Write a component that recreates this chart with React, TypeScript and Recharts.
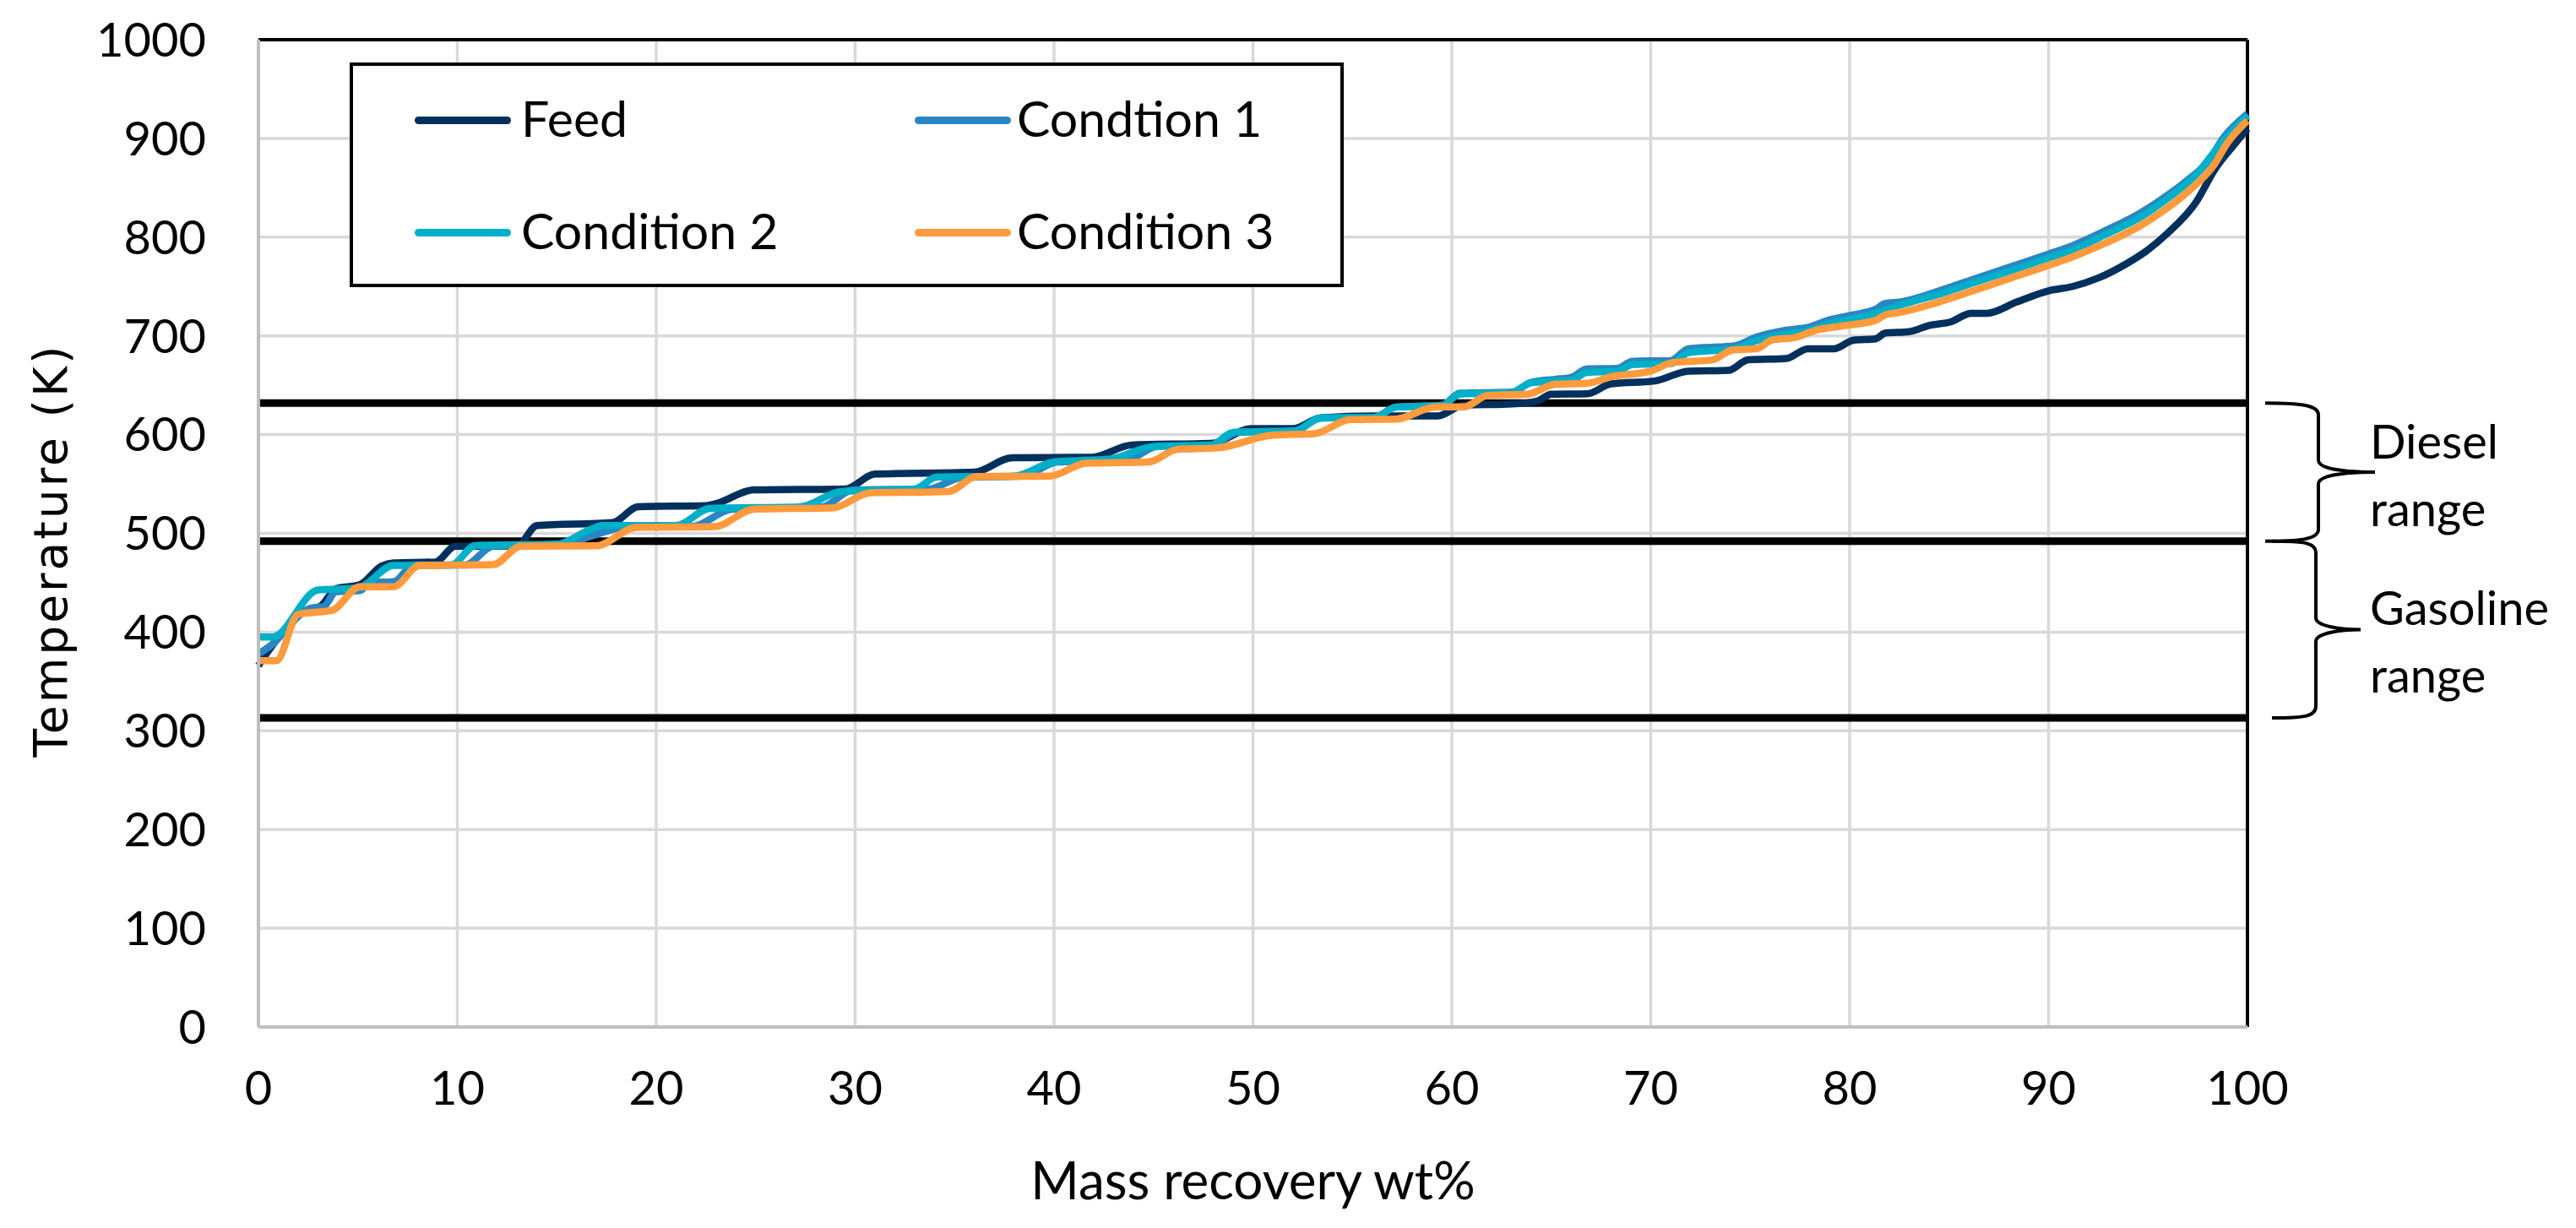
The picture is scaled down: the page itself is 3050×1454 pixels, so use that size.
import React from 'react';
import {
  LineChart,
  Line,
  XAxis,
  YAxis,
  CartesianGrid,
  ReferenceLine,
  ReferenceArea,
  Legend,
  Label,
} from 'recharts';

// ---------- data (mass recovery wt%, temperature K) ----------
const FEED: [number, number][] = [
  [0, 366], [0.4, 378], [2.5, 423], [3.1, 426], [3.9, 444], [5.1, 448], [6.2, 467], [6.8, 470],
  [8.9, 471], [9.9, 487], [13.0, 487], [14.0, 508], [17.8, 511], [19.1, 527], [22.5, 528],
  [23.0, 530], [24.9, 544], [29.5, 545], [31.0, 560], [36.0, 562], [37.9, 576.6], [41.9, 577],
  [43.9, 589.5], [48.0, 591.4], [49.9, 606], [52.0, 606], [53.4, 617], [56.1, 619], [59.3, 619],
  [60.6, 630], [63.0, 631], [64.3, 634], [65.0, 641], [66.8, 641.4], [68.0, 651.4], [70.2, 654.3],
  [71.9, 664.3], [73.9, 665], [74.9, 675.7], [76.8, 677], [77.9, 687], [79.2, 687], [80.2, 695.7],
  [81.3, 697], [81.8, 702.9], [83.0, 704.3], [84.0, 710.6], [85.1, 714.3], [86.1, 722.9],
  [86.9, 722.9], [88.4, 734.3], [90.0, 745.7], [91.2, 750], [92.5, 758.6], [93.9, 772.9],
  [94.9, 785.7], [96.0, 804.3], [97.4, 835], [98.4, 869.8], [99.3, 892.8], [100, 910],
];

const CONDITION_1: [number, number][] = [
  [0, 378], [0.6, 386], [2.6, 424], [3.3, 426], [3.9, 441], [5.1, 442], [5.6, 450], [6.8, 451],
  [7.8, 468], [10.4, 468], [11.8, 487], [15.0, 488], [16.7, 497], [17.3, 501], [18.7, 507],
  [21.8, 507], [23.8, 524.4], [28.3, 526.7], [29.9, 543.8], [33.7, 545], [35.4, 556.7],
  [38.4, 558], [40.2, 572.3], [43.6, 573.7], [45.2, 588], [48.0, 589.4], [49.2, 602.3],
  [52.1, 603.7], [53.4, 616.7], [56.1, 617.5], [57.2, 628], [59.5, 629.6], [60.4, 642],
  [63.0, 643], [64.0, 653], [65.2, 656], [66.0, 658], [66.8, 666.6], [68.3, 667], [69.1, 674.3],
  [71.0, 675], [71.9, 687], [74.2, 690], [75.3, 698.6], [76.8, 705.7], [77.9, 708.6],
  [78.9, 715.7], [80.2, 721.4], [81.3, 727], [81.8, 732.9], [82.5, 734.3], [84.7, 747],
  [86.4, 758.6], [88.1, 770], [90.0, 782.9], [91.2, 791.4], [92.9, 807], [94.6, 824.3],
  [95.7, 838.6], [97.0, 858], [98.0, 876], [98.8, 901], [100, 925],
];

const CONDITION_2: [number, number][] = [
  [0, 395], [0.7, 395], [3.0, 442.6], [5.0, 444.6], [6.8, 467.4], [9.7, 468], [10.9, 487.7],
  [15.0, 489], [16.7, 504], [17.3, 508], [21.0, 508], [22.7, 525.3], [27.2, 526.7],
  [29.3, 542.4], [33.0, 545], [34.1, 557], [38.0, 558], [40.0, 572.3], [42.8, 575.2],
  [45.0, 588], [47.9, 589.4], [49.0, 602.3], [52.1, 603.7], [53.4, 616.7], [56.1, 617.5],
  [57.2, 628], [59.5, 629.6], [60.4, 641], [63.0, 642.5], [64.0, 652.6], [65.2, 654],
  [66.0, 655], [66.8, 663], [68.3, 664], [69.1, 671], [71.0, 672], [71.9, 683], [74.2, 687],
  [75.3, 695], [76.8, 702], [77.9, 705], [78.9, 712], [80.2, 717.5], [81.3, 723], [82.5, 731],
  [84.7, 743.5], [86.4, 755], [88.1, 766], [90.0, 779], [91.2, 787], [92.9, 803], [94.6, 820],
  [95.7, 835], [97.4, 863], [98.8, 898], [100, 923],
];

const CONDITION_3: [number, number][] = [
  [0, 371], [0.9, 371], [2.0, 418], [3.7, 422], [5.1, 446], [6.8, 446], [8.1, 467.4],
  [11.8, 468.3], [13.2, 487], [17.0, 487.4], [19.0, 506], [22.95, 506.8], [24.9, 524.4],
  [28.9, 525.9], [30.75, 541], [34.7, 542.4], [36.1, 557.5], [39.8, 558], [41.6, 571],
  [44.75, 572.3], [46.2, 585], [48.2, 586.5], [51.0, 599.4], [53.1, 601], [54.9, 615.2],
  [57.2, 615.8], [59.2, 628], [60.6, 628], [61.8, 639.7], [63.8, 641], [65.2, 651],
  [66.8, 652], [68.0, 658.6], [70.0, 664.3], [71.1, 672.9], [73.1, 675.7], [74.1, 685.7],
  [75.3, 687], [76.1, 695.7], [77.3, 698.6], [78.3, 705.7], [79.6, 710], [81.3, 715.7],
  [81.8, 721.4], [82.5, 723.7], [84.7, 735.7], [86.4, 747], [88.1, 758.6], [90.0, 771.4],
  [91.2, 780], [92.9, 794.3], [94.6, 811.4], [95.7, 825.7], [97.0, 846], [98.3, 872.7],
  [99.0, 895.7], [100, 918],
];

const SERIES_NAMES = ['Feed', 'Condtion 1', 'Condition 2', 'Condition 3'];
const SERIES_COLORS = ['#00305C', '#2A86C3', '#00AFC8', '#FF9A3D'];

const X_TICKS = [0, 10, 20, 30, 40, 50, 60, 70, 80, 90, 100];
const Y_TICKS = [0, 100, 200, 300, 400, 500, 600, 700, 800, 900, 1000];

// temperature cut points (K)
const DIESEL_UPPER = 632;
const DIESEL_LOWER = 492;
const GASOLINE_LOWER = 313;

const toRows = (pts: [number, number][]) => pts.map(([p, t]) => ({ p, t }));

const FONT = 'Lato, "Open Sans", sans-serif';

const makeBrace =
  (o: { endDx: number; vDx: number; tipDx: number; lines: string[]; baselines: number[] }) =>
  (props: any) => {
    const { x, y, width, height } = props;
    const right = x + width;
    const x0 = right + o.endDx;
    const xv = right + o.vDx;
    const xt = right + o.tipDx;
    const yTop = y;
    const yBot = y + height;
    const yMid = y + height / 2;
    const r = 14;
    const d = [
      `M ${x0} ${yTop}`,
      `C ${x0 + 40} ${yTop} ${xv} ${yTop + 2} ${xv} ${yTop + r}`,
      `L ${xv} ${yMid - r}`,
      `C ${xv} ${yMid - 4} ${xv + 30} ${yMid} ${xt} ${yMid}`,
      `C ${xv + 30} ${yMid} ${xv} ${yMid + 4} ${xv} ${yMid + r}`,
      `L ${xv} ${yBot - r}`,
      `C ${xv} ${yBot - 2} ${x0 + 40} ${yBot} ${x0} ${yBot}`,
    ].join(' ');
    return (
      <g>
        <path d={d} fill="none" stroke="#000" strokeWidth={4} />
        {o.lines.map((s, i) => (
          <text key={s + i} x={right + 145} y={y + o.baselines[i]} fontFamily={FONT} fontSize={56} fill="#000">
            {s}
          </text>
        ))}
      </g>
    );
  };

// legend slot per series (same order as SERIES_NAMES)
const LEGEND_POS = [
  { lx: 73, ly: 60, tx: 199 },
  { lx: 665, ly: 60, tx: 786 },
  { lx: 73, ly: 193, tx: 199 },
  { lx: 665, ly: 193, tx: 786 },
];

const renderLegend = (props: any) => {
  const payload = props.payload || [];
  return (
    <div
      style={{
        position: 'relative',
        width: 1177,
        height: 266,
        border: '4px solid #000',
        boxSizing: 'border-box',
        background: '#fff',
        fontFamily: FONT,
      }}
    >
      {payload.map((entry: any) => {
        const idx = SERIES_NAMES.indexOf(entry.value);
        const pos = LEGEND_POS[idx < 0 ? 0 : idx];
        return (
          <React.Fragment key={entry.value}>
            <div
              style={{
                position: 'absolute',
                left: pos.lx,
                top: pos.ly,
                width: 114,
                height: 9,
                borderRadius: 5,
                background: entry.color,
              }}
            />
            <div
              style={{
                position: 'absolute',
                left: pos.tx,
                top: pos.ly - 38,
                fontSize: 59,
                lineHeight: '80px',
                color: '#000',
                whiteSpace: 'nowrap',
              }}
            >
              {entry.value}
            </div>
          </React.Fragment>
        );
      })}
    </div>
  );
};

const YTitle = (props: any) => {
  const vb = props.viewBox;
  const cx = vb.x + 52;
  const cy = vb.y + vb.height / 2 + 20;
  return (
    <text
      x={cx}
      y={cy}
      transform={`rotate(-90 ${cx} ${cy})`}
      textAnchor="middle"
      dominantBaseline="central"
      fontFamily='"DejaVu Sans", Verdana, sans-serif'
      fontSize={55}
      letterSpacing={3}
      fill="#000"
    >
      Temperature (K)
    </text>
  );
};

const XTitle = (props: any) => {
  const vb = props.viewBox;
  return (
    <text
      x={vb.x + vb.width / 2}
      y={vb.y + 204}
      textAnchor="middle"
      fontFamily={FONT}
      fontSize={62}
      fill="#000"
    >
      Mass recovery wt%
    </text>
  );
};

const SERIES = [FEED, CONDITION_1, CONDITION_2, CONDITION_3];

export default function App() {
  return (
    <div style={{ width: 3034, height: 1438, background: '#fff', fontFamily: FONT }}>
      <LineChart width={3034} height={1438} margin={{ top: 39, right: 381, left: 0, bottom: 0 }}>
        <CartesianGrid stroke="#D9D9D9" strokeWidth={3.5} />
        <XAxis
          dataKey="p"
          type="number"
          domain={[0, 100]}
          ticks={X_TICKS}
          interval={0}
          height={230}
          tickLine={false}
          tickSize={0}
          tickMargin={52}
          axisLine={{ stroke: '#BFBFBF', strokeWidth: 4 }}
          tick={{ fill: '#000', fontSize: 56, fontFamily: FONT }}
          allowDuplicatedCategory={false}
        >
          <Label content={<XTitle />} />
        </XAxis>
        <YAxis
          type="number"
          domain={[0, 1000]}
          ticks={Y_TICKS}
          interval={0}
          width={298}
          tickLine={false}
          tickSize={0}
          tickMargin={62}
          axisLine={{ stroke: '#BFBFBF', strokeWidth: 4 }}
          tick={{ fill: '#000', fontSize: 56, fontFamily: FONT }}
        >
          <Label content={<YTitle />} />
        </YAxis>
        <ReferenceLine y={1000} stroke="#000" strokeWidth={4} />
        <ReferenceLine x={100} stroke="#000" strokeWidth={4} />
        <ReferenceLine y={DIESEL_UPPER} stroke="#000" strokeWidth={9} />
        <ReferenceLine y={DIESEL_LOWER} stroke="#000" strokeWidth={9} />
        <ReferenceLine y={GASOLINE_LOWER} stroke="#000" strokeWidth={9} />
        <ReferenceArea
          y1={DIESEL_LOWER}
          y2={DIESEL_UPPER}
          shape={makeBrace({ endDx: 21, vDx: 84, tipDx: 151, lines: ['Diesel', 'range'], baselines: [66, 146] })}
        />
        <ReferenceArea
          y1={GASOLINE_LOWER}
          y2={DIESEL_LOWER}
          shape={makeBrace({ endDx: 29, vDx: 81, tipDx: 134, lines: ['Gasoline', 'range'], baselines: [99, 179] })}
        />
        {SERIES.map((pts, i) => (
          <Line
            key={SERIES_NAMES[i]}
            data={toRows(pts)}
            dataKey="t"
            name={SERIES_NAMES[i]}
            type="monotoneX"
            stroke={SERIES_COLORS[i]}
            strokeWidth={8.5}
            dot={false}
            activeDot={false}
            isAnimationActive={false}
          />
        ))}
        <Legend
          layout="vertical"
          align="center"
          verticalAlign="middle"
          content={renderLegend}
          wrapperStyle={{ position: 'absolute', left: 406, top: 66, width: 1177, height: 266 }}
        />
      </LineChart>
    </div>
  );
}
